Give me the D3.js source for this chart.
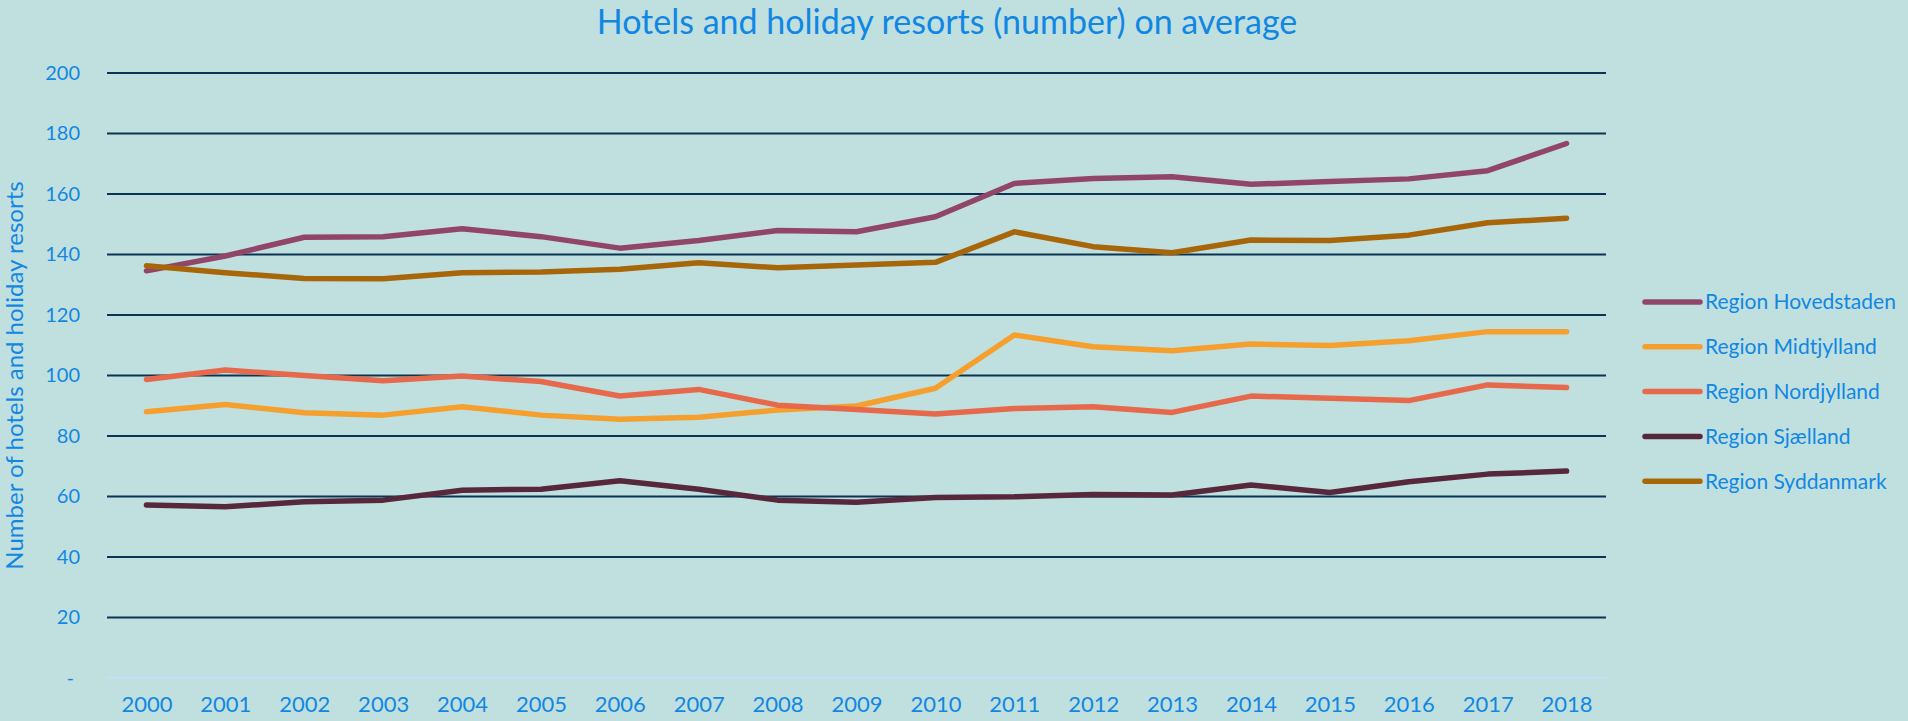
<!DOCTYPE html>
<html lang="en">
<head>
<meta charset="utf-8">
<title>Hotels and holiday resorts (number) on average</title>
<script src="https://cdn.jsdelivr.net/npm/d3@7/dist/d3.min.js"></script>
<style>
  html, body { margin: 0; padding: 0; background: #c0e0df; }
  svg { display: block; font-family: Lato, "Open Sans", sans-serif; }
  .tick text, .lbl { fill: #1187e3; }
  .grid line { stroke: #0b3352; stroke-width: 2; }
  .series { fill: none; stroke-width: 5.5; stroke-linejoin: round; stroke-linecap: round; }
</style>
</head>
<body>
<svg width="1908" height="721"></svg>
<script>
var years = ["2000","2001","2002","2003","2004","2005","2006","2007","2008","2009",
             "2010","2011","2012","2013","2014","2015","2016","2017","2018"];
var yTicks = [0, 20, 40, 60, 80, 100, 120, 140, 160, 180, 200];

var regions = ["Region Hovedstaden", "Region Midtjylland", "Region Nordjylland", "Region Sjælland", "Region Syddanmark"];
var colors = ["#914568", "#f5a02e", "#e5694a", "#57273b", "#a8660a"];

var hovedstaden = [134.6, 139.5, 145.7, 145.9, 148.5, 145.9, 142.1, 144.6, 147.9, 147.5, 152.5, 163.5, 165.1, 165.7, 163.2, 164.1, 165.0, 167.7, 176.7];
var midtjylland = [88.0, 90.4, 87.7, 86.9, 89.7, 86.9, 85.5, 86.2, 88.6, 89.9, 95.8, 113.4, 109.5, 108.2, 110.4, 109.9, 111.5, 114.5, 114.5];
var nordjylland = [98.7, 101.8, 100.0, 98.3, 99.8, 98.0, 93.2, 95.4, 90.2, 88.8, 87.3, 89.1, 89.7, 87.8, 93.2, 92.5, 91.7, 96.9, 96.0];
var sjaelland = [57.2, 56.6, 58.3, 58.8, 62.1, 62.4, 65.2, 62.4, 58.8, 58.1, 59.7, 59.9, 60.7, 60.5, 63.8, 61.3, 64.9, 67.4, 68.4];
var syddanmark = [136.3, 134.0, 132.1, 132.0, 134.0, 134.2, 135.1, 137.3, 135.6, 136.5, 137.4, 147.5, 142.6, 140.6, 144.8, 144.6, 146.4, 150.5, 152.0];

var seriesValues = [hovedstaden, midtjylland, nordjylland, sjaelland, syddanmark];

var svg = d3.select("svg"),
    margin = {top: 73, right: 302, bottom: 43, left: 107},
    width = +svg.attr("width") - margin.left - margin.right,
    height = +svg.attr("height") - margin.top - margin.bottom;

var x = d3.scalePoint().domain(years).range([0, width]).padding(0.5),
    y = d3.scaleLinear().domain([0, 200]).range([height, 0]);

var g = svg.append("g")
    .attr("transform", "translate(" + margin.left + "," + margin.top + ")");

// gridlines
var grid = g.append("g").attr("class", "grid")
  .selectAll("line").data(yTicks).enter().append("line")
    .attr("x1", 0).attr("x2", width)
    .attr("y1", function(d) { return y(d); })
    .attr("y2", function(d) { return y(d); })
    .style("stroke", function(d) { return d === 0 ? "#bfe0f7" : null; });

// y axis labels
var yAxis = g.append("g")
    .call(d3.axisLeft(y).tickValues(yTicks).tickSize(0).tickPadding(27)
      .tickFormat(function(d) { return d === 0 ? "-" : d; }));
yAxis.select(".domain").remove();
yAxis.selectAll("text").style("font-size", "20px").style("font-family", "Lato, sans-serif");
yAxis.selectAll(".tick").filter(function(d) { return d === 0; }).select("text").attr("dx", "-6");

// x axis labels
var xAxis = g.append("g")
    .attr("transform", "translate(0," + height + ")")
    .call(d3.axisBottom(x).tickSize(0).tickPadding(18));
xAxis.select(".domain").remove();
xAxis.selectAll("text").style("font-size", "22px").style("font-family", "Lato, sans-serif");

// lines
var line = d3.line()
    .x(function(d, i) { return x(years[i]); })
    .y(function(d) { return y(d); });

g.selectAll(".series")
  .data(seriesValues).enter().append("path")
    .attr("class", "series")
    .attr("stroke", function(d, i) { return colors[i]; })
    .attr("d", line);

// title
svg.append("text")
    .attr("class", "lbl")
    .attr("x", 947).attr("y", 34)
    .attr("text-anchor", "middle")
    .style("font-size", "34px")
    .text("Hotels and holiday resorts (number) on average");

// y axis title
svg.append("text")
    .attr("class", "lbl")
    .attr("transform", "translate(23," + (margin.top + height / 2) + ") rotate(-90)")
    .attr("text-anchor", "middle")
    .style("font-size", "24px")
    .text("Number of hotels and holiday resorts");

// legend
var legend = svg.append("g")
    .attr("transform", "translate(1645,302)");

var item = legend.selectAll("g").data(regions).enter().append("g")
    .attr("transform", function(d, i) { return "translate(0," + (i * 44.8) + ")"; });

item.append("line")
    .attr("x1", 0).attr("x2", 55)
    .attr("stroke", function(d, i) { return colors[i]; })
    .attr("stroke-width", 5.5)
    .attr("stroke-linecap", "round");

item.append("text")
    .attr("class", "lbl")
    .attr("x", 60).attr("dy", "0.35em")
    .style("font-size", "21px")
    .text(function(d) { return d; });
</script>
</body>
</html>
